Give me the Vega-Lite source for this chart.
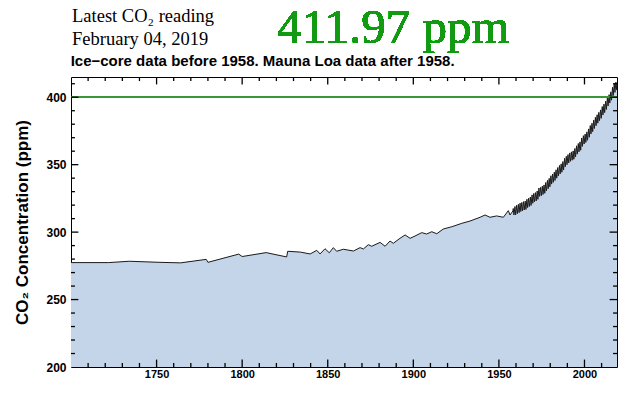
{
  "$schema": "https://vega.github.io/schema/vega-lite/v6.json",
  "width": 546,
  "height": 290,
  "autosize": {"type": "none"},
  "padding": {"left": 71, "top": 77, "right": 23, "bottom": 26},
  "background": "white",
  "datasets": {
    "header": [
      {"label": "Latest CO₂ reading", "year": 1700.6, "ppm": 456.0},
      {"label": "February 04, 2019", "year": 1700.6, "ppm": 438.7}
    ],
    "note": [
      {"label": "Ice−core data before 1958. Mauna Loa data after 1958.", "year": 1699.8, "ppm": 423.4}
    ],
    "xmajor": [{"year": 1750}, {"year": 1800}, {"year": 1850}, {"year": 1900}, {"year": 1950}, {"year": 2000}],
    "xminor": [
      {"year": 1710}, {"year": 1720}, {"year": 1730}, {"year": 1740}, {"year": 1760}, {"year": 1770},
      {"year": 1780}, {"year": 1790}, {"year": 1810}, {"year": 1820}, {"year": 1830}, {"year": 1840},
      {"year": 1860}, {"year": 1870}, {"year": 1880}, {"year": 1890}, {"year": 1910}, {"year": 1920},
      {"year": 1930}, {"year": 1940}, {"year": 1960}, {"year": 1970}, {"year": 1980}, {"year": 1990},
      {"year": 2010}
    ],
    "ymajor": [{"ppm": 250}, {"ppm": 300}, {"ppm": 350}, {"ppm": 400}],
    "yminor": [
      {"ppm": 210}, {"ppm": 220}, {"ppm": 230}, {"ppm": 240}, {"ppm": 260}, {"ppm": 270},
      {"ppm": 280}, {"ppm": 290}, {"ppm": 310}, {"ppm": 320}, {"ppm": 330}, {"ppm": 340},
      {"ppm": 360}, {"ppm": 370}, {"ppm": 380}, {"ppm": 390}, {"ppm": 410}
    ]
  },
  "data": {
    "values": [
      {"year": 1700, "co2": 277.4}, {"year": 1722, "co2": 277.4}, {"year": 1734, "co2": 278.4},
      {"year": 1752, "co2": 277.6}, {"year": 1764, "co2": 277.2}, {"year": 1779, "co2": 279.8},
      {"year": 1780, "co2": 277.6}, {"year": 1798, "co2": 283.7}, {"year": 1800, "co2": 281.9},
      {"year": 1814, "co2": 284.8}, {"year": 1826, "co2": 281.6}, {"year": 1826.6, "co2": 285.8},
      {"year": 1834, "co2": 285.2}, {"year": 1839.7, "co2": 283.8}, {"year": 1843.6, "co2": 286.5},
      {"year": 1845.5, "co2": 283.8}, {"year": 1848.4, "co2": 287.7}, {"year": 1850.9, "co2": 284.7},
      {"year": 1853.3, "co2": 288.5}, {"year": 1855.2, "co2": 285.8}, {"year": 1859.1, "co2": 287.3},
      {"year": 1865, "co2": 286.0}, {"year": 1868.9, "co2": 288.5}, {"year": 1870.8, "co2": 287.5},
      {"year": 1873.7, "co2": 290.7}, {"year": 1875.7, "co2": 289.5}, {"year": 1880.6, "co2": 292.4},
      {"year": 1883.5, "co2": 289.5}, {"year": 1886.4, "co2": 293.4}, {"year": 1888.3, "co2": 291.7},
      {"year": 1892.2, "co2": 295.4}, {"year": 1895.2, "co2": 297.9}, {"year": 1898.1, "co2": 295.4},
      {"year": 1901, "co2": 297.1}, {"year": 1904.9, "co2": 299.6}, {"year": 1907.8, "co2": 298.6},
      {"year": 1910.8, "co2": 300.3}, {"year": 1913.7, "co2": 298.8}, {"year": 1917.5, "co2": 302.3},
      {"year": 1922.5, "co2": 304.0}, {"year": 1928.3, "co2": 306.5}, {"year": 1933.1, "co2": 308.2},
      {"year": 1939, "co2": 311.0}, {"year": 1941.9, "co2": 312.7}, {"year": 1944.8, "co2": 311.0},
      {"year": 1948.7, "co2": 312.0}, {"year": 1952.6, "co2": 311.0}, {"year": 1955.5, "co2": 315.9},
      {"year": 1956.5, "co2": 312.7},
      {"year": 1958.2, "co2": 315.7}, {"year": 1958.38, "co2": 317.5}, {"year": 1958.79, "co2": 312.7},
      {"year": 1959.38, "co2": 319.0}, {"year": 1959.79, "co2": 312.8},
      {"year": 1960.38, "co2": 319.9}, {"year": 1960.79, "co2": 313.7},
      {"year": 1961.38, "co2": 320.6}, {"year": 1961.79, "co2": 314.4},
      {"year": 1962.38, "co2": 321.5}, {"year": 1962.79, "co2": 315.3},
      {"year": 1963.38, "co2": 322.0}, {"year": 1963.79, "co2": 315.8},
      {"year": 1964.38, "co2": 322.6}, {"year": 1964.79, "co2": 316.4},
      {"year": 1965.38, "co2": 323.0}, {"year": 1965.79, "co2": 316.8},
      {"year": 1966.38, "co2": 324.4}, {"year": 1966.79, "co2": 318.2},
      {"year": 1967.38, "co2": 325.2}, {"year": 1967.79, "co2": 319.0},
      {"year": 1968.38, "co2": 326.0}, {"year": 1968.79, "co2": 319.8},
      {"year": 1969.38, "co2": 327.6}, {"year": 1969.79, "co2": 321.4},
      {"year": 1970.38, "co2": 328.7}, {"year": 1970.79, "co2": 322.5},
      {"year": 1971.38, "co2": 329.3}, {"year": 1971.79, "co2": 323.1},
      {"year": 1972.38, "co2": 330.5}, {"year": 1972.79, "co2": 324.3},
      {"year": 1973.38, "co2": 332.7}, {"year": 1973.79, "co2": 326.5},
      {"year": 1974.38, "co2": 333.2}, {"year": 1974.79, "co2": 327.0},
      {"year": 1975.38, "co2": 334.1}, {"year": 1975.79, "co2": 327.9},
      {"year": 1976.38, "co2": 335.0}, {"year": 1976.79, "co2": 328.8},
      {"year": 1977.38, "co2": 336.8}, {"year": 1977.79, "co2": 330.6},
      {"year": 1978.38, "co2": 338.4}, {"year": 1978.79, "co2": 332.2},
      {"year": 1979.38, "co2": 339.8}, {"year": 1979.79, "co2": 333.6},
      {"year": 1980.38, "co2": 341.8}, {"year": 1980.79, "co2": 335.6},
      {"year": 1981.38, "co2": 343.1}, {"year": 1981.79, "co2": 336.9},
      {"year": 1982.38, "co2": 344.5}, {"year": 1982.79, "co2": 338.3},
      {"year": 1983.38, "co2": 346.2}, {"year": 1983.79, "co2": 340.0},
      {"year": 1984.38, "co2": 347.9}, {"year": 1984.79, "co2": 341.7},
      {"year": 1985.38, "co2": 349.4}, {"year": 1985.79, "co2": 343.2},
      {"year": 1986.38, "co2": 350.6}, {"year": 1986.79, "co2": 344.4},
      {"year": 1987.38, "co2": 352.3}, {"year": 1987.79, "co2": 346.1},
      {"year": 1988.38, "co2": 354.7}, {"year": 1988.79, "co2": 348.5},
      {"year": 1989.38, "co2": 356.2}, {"year": 1989.79, "co2": 350.0},
      {"year": 1990.38, "co2": 357.5}, {"year": 1990.79, "co2": 351.3},
      {"year": 1991.38, "co2": 358.7}, {"year": 1991.79, "co2": 352.5},
      {"year": 1992.38, "co2": 359.5}, {"year": 1992.79, "co2": 353.3},
      {"year": 1993.38, "co2": 360.2}, {"year": 1993.79, "co2": 354.0},
      {"year": 1994.38, "co2": 362.0}, {"year": 1994.79, "co2": 355.8},
      {"year": 1995.38, "co2": 364.0}, {"year": 1995.79, "co2": 357.8},
      {"year": 1996.38, "co2": 365.7}, {"year": 1996.79, "co2": 359.5},
      {"year": 1997.38, "co2": 366.9}, {"year": 1997.79, "co2": 360.7},
      {"year": 1998.38, "co2": 369.8}, {"year": 1998.79, "co2": 363.6},
      {"year": 1999.38, "co2": 371.5}, {"year": 1999.79, "co2": 365.3},
      {"year": 2000.38, "co2": 372.7}, {"year": 2000.79, "co2": 366.5},
      {"year": 2001.38, "co2": 374.3}, {"year": 2001.79, "co2": 368.1},
      {"year": 2002.38, "co2": 376.5}, {"year": 2002.79, "co2": 370.3},
      {"year": 2003.38, "co2": 379.0}, {"year": 2003.79, "co2": 372.8},
      {"year": 2004.38, "co2": 380.7}, {"year": 2004.79, "co2": 374.5},
      {"year": 2005.38, "co2": 383.0}, {"year": 2005.79, "co2": 376.8},
      {"year": 2006.38, "co2": 385.1}, {"year": 2006.79, "co2": 378.9},
      {"year": 2007.38, "co2": 387.0}, {"year": 2007.79, "co2": 380.8},
      {"year": 2008.38, "co2": 388.8}, {"year": 2008.79, "co2": 382.6},
      {"year": 2009.38, "co2": 390.6}, {"year": 2009.79, "co2": 384.4},
      {"year": 2010.38, "co2": 393.1}, {"year": 2010.79, "co2": 386.9},
      {"year": 2011.38, "co2": 394.9}, {"year": 2011.79, "co2": 388.6},
      {"year": 2012.38, "co2": 397.1}, {"year": 2012.79, "co2": 390.9},
      {"year": 2013.38, "co2": 399.7}, {"year": 2013.79, "co2": 393.5},
      {"year": 2014.38, "co2": 401.9}, {"year": 2014.79, "co2": 395.7},
      {"year": 2015.38, "co2": 404.0}, {"year": 2015.79, "co2": 397.8},
      {"year": 2016.38, "co2": 407.4}, {"year": 2016.79, "co2": 401.2},
      {"year": 2017.38, "co2": 409.8}, {"year": 2017.79, "co2": 403.6},
      {"year": 2018.38, "co2": 411.2}, {"year": 2018.79, "co2": 405.5},
      {"year": 2018.96, "co2": 410.2}
    ]
  },
  "config": {
    "view": {"stroke": "#000", "strokeWidth": 1},
    "axis": {
      "grid": false,
      "domain": false,
      "ticks": false,
      "labelFont": "Liberation Sans",
      "labelFontWeight": "bold",
      "labelColor": "#000",
      "titleColor": "#000"
    }
  },
  "layer": [
    {
      "mark": {"type": "area", "color": "#c4d5ea", "clip": true},
      "encoding": {
        "x": {"field": "year", "type": "quantitative",
              "scale": {"domain": [1700, 2019], "nice": false, "zero": false},
              "axis": {"orient": "bottom", "values": [1750, 1800, 1850, 1900, 1950, 2000],
                       "labelPadding": 1, "labelFontSize": 11, "format": "d", "title": null}},
        "y": {"field": "co2", "type": "quantitative",
              "scale": {"domain": [200, 415], "nice": false, "zero": false},
              "axis": {"orient": "left", "values": [200, 250, 300, 350, 400],
                       "labelPadding": 5, "labelFontSize": 12, "format": "d",
                       "title": "CO₂ Concentration (ppm)", "titleFont": "Liberation Sans",
                       "titleFontSize": 17, "titleFontWeight": "bold", "titlePadding": 14}}
      }
    },
    {
      "mark": {"type": "line", "color": "#1a1a1a", "strokeWidth": 1},
      "encoding": {
        "x": {"field": "year", "type": "quantitative"},
        "y": {"field": "co2", "type": "quantitative"}
      }
    },
    {
      "mark": {"type": "rule", "color": "#3a963a", "strokeWidth": 1},
      "encoding": {
        "y": {"datum": 400, "type": "quantitative"}
      }
    },
    {
      "data": {"name": "xmajor"},
      "mark": {"type": "rule", "color": "#000", "strokeWidth": 1.3, "opacity": 1},
      "encoding": {
        "x": {"field": "year", "type": "quantitative"},
        "y": {"datum": 200, "type": "quantitative"},
        "y2": {"datum": 205.5}
      }
    },
    {
      "data": {"name": "xminor"},
      "mark": {"type": "rule", "color": "#000", "strokeWidth": 1.3, "opacity": 1},
      "encoding": {
        "x": {"field": "year", "type": "quantitative"},
        "y": {"datum": 200, "type": "quantitative"},
        "y2": {"datum": 203}
      }
    },
    {
      "data": {"name": "xmajor"},
      "mark": {"type": "rule", "color": "#000", "strokeWidth": 1.3, "opacity": 1},
      "encoding": {
        "x": {"field": "year", "type": "quantitative"},
        "y": {"datum": 415, "type": "quantitative"},
        "y2": {"datum": 409.5}
      }
    },
    {
      "data": {"name": "xminor"},
      "mark": {"type": "rule", "color": "#000", "strokeWidth": 1.3, "opacity": 1},
      "encoding": {
        "x": {"field": "year", "type": "quantitative"},
        "y": {"datum": 415, "type": "quantitative"},
        "y2": {"datum": 412}
      }
    },
    {
      "data": {"name": "ymajor"},
      "mark": {"type": "rule", "color": "#000", "strokeWidth": 1.3, "opacity": 1},
      "encoding": {
        "y": {"field": "ppm", "type": "quantitative"},
        "x": {"datum": 1700, "type": "quantitative"},
        "x2": {"datum": 1704.3}
      }
    },
    {
      "data": {"name": "yminor"},
      "mark": {"type": "rule", "color": "#000", "strokeWidth": 1.3, "opacity": 1},
      "encoding": {
        "y": {"field": "ppm", "type": "quantitative"},
        "x": {"datum": 1700, "type": "quantitative"},
        "x2": {"datum": 1702.3}
      }
    },
    {
      "data": {"name": "ymajor"},
      "mark": {"type": "rule", "color": "#000", "strokeWidth": 1.3, "opacity": 1},
      "encoding": {
        "y": {"field": "ppm", "type": "quantitative"},
        "x": {"datum": 2019, "type": "quantitative"},
        "x2": {"datum": 2014.7}
      }
    },
    {
      "data": {"name": "yminor"},
      "mark": {"type": "rule", "color": "#000", "strokeWidth": 1.3, "opacity": 1},
      "encoding": {
        "y": {"field": "ppm", "type": "quantitative"},
        "x": {"datum": 2019, "type": "quantitative"},
        "x2": {"datum": 2016.7}
      }
    },
    {
      "mark": {"type": "text", "text": "411.97 ppm", "font": "Liberation Serif", "fontSize": 49,
               "color": "#139a13", "align": "left", "baseline": "alphabetic"},
      "encoding": {
        "x": {"datum": 1820.5, "type": "quantitative"},
        "y": {"datum": 440, "type": "quantitative"}
      }
    },
    {
      "data": {"name": "header"},
      "mark": {"type": "text", "font": "Liberation Serif", "fontSize": 18.5, "color": "#000",
               "align": "left", "baseline": "alphabetic"},
      "encoding": {
        "text": {"field": "label"},
        "x": {"field": "year", "type": "quantitative"},
        "y": {"field": "ppm", "type": "quantitative"}
      }
    },
    {
      "data": {"name": "note"},
      "mark": {"type": "text", "font": "Liberation Sans", "fontSize": 15, "fontWeight": "bold",
               "color": "#000", "align": "left", "baseline": "alphabetic"},
      "encoding": {
        "text": {"field": "label"},
        "x": {"field": "year", "type": "quantitative"},
        "y": {"field": "ppm", "type": "quantitative"}
      }
    }
  ]
}
